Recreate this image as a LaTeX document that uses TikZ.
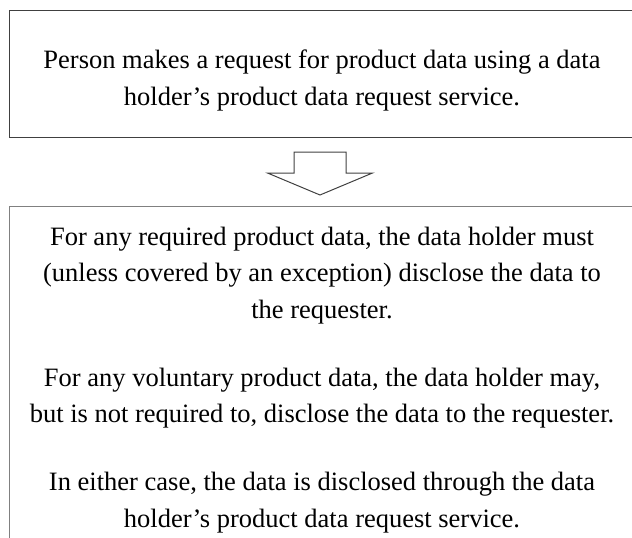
\documentclass[tikz,border=0pt]{standalone}
\usepackage{fontspec}
\setmainfont{Liberation Serif}
\begin{document}
\begin{tikzpicture}[x=1pt,y=-1pt,
  box/.style={draw=#1,line width=1.2pt,inner sep=0pt,anchor=north west},
  txt/.style={align=center,inner sep=0pt,anchor=north,
    font=\fontsize{26.5pt}{36.5pt}\selectfont}]
\useasboundingbox (0,0) rectangle (632,538);
\clip (0,0) rectangle (632,538);

% request box
\node[box=black!75,minimum width=624pt,minimum height=127pt] (reqbox) at (9,10) {};
\node[txt] (reqtext) at (322,49.7) {Person makes a request for product data using a data\\
  holder’s product data request service.};

% block arrow
\draw[black!75,line width=1pt,line join=miter]
  (294,152) -- (346,152) -- (346,173) -- (372.5,173) -- (320,195)
  -- (267.5,173) -- (294,173) -- cycle;

% disclosure box
\node[box=black!50,minimum width=624pt,minimum height=360pt] (discbox) at (9,206) {};
\node[txt] (disctext) at (322,226.7) {For any required product data, the data holder must\\
  (unless covered by an exception) disclose the data to\\
  the requester.\\[31.5pt]
  For any voluntary product data, the data holder may,\\
  but is not required to, disclose the data to the requester.\\[31.5pt]
  In either case, the data is disclosed through the data\\
  holder’s product data request service.};
\end{tikzpicture}
\end{document}
